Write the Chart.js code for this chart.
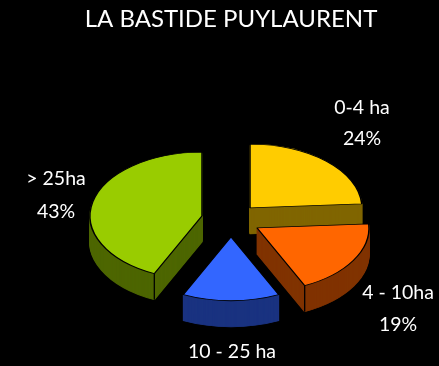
<!DOCTYPE html>
<html lang="fr">
<head>
    <meta charset="UTF-8">
    <title>LA BASTIDE PUYLAURENT</title>
    <script src="https://cdn.jsdelivr.net/npm/chart.js"></script>
    <style>
        html, body { margin: 0; background: #000; }
        canvas { display: block; }
    </style>
</head>
<body>
    <canvas id="myChart" width="439" height="366"></canvas>
    <script>
        const chartTitle = 'LA BASTIDE PUYLAURENT';
        const categories = ['0-4 ha', '4 - 10ha', '10 - 25 ha', '> 25ha'];
        const shares = [24, 19, 14, 43];

        const topColors = ['#FFCC00', '#FF6600', '#3366FF', '#99CC00'];
        const sideColors = ['#806600', '#803300', '#1A3380', '#4D6600'];

        // look of the fake 3D: squash, thickness, how far each slice is pulled out
        const squash = 0.57;
        const depth = 26;
        const pull = [[19, -12], [26, 8], [0, 17], [-29, -4]];
        const drawOrder = [0, 3, 1, 2];
        // which edge of a slice shows a vertical line on its side
        const cornerEdge = [null, 'endAngle', null, 'startAngle'];
        // label anchors: centre x, first baseline, gap to the percent (0 = cropped off)
        const labelSpots = [[362, 114, 31], [398, 299, 32], [232, 358, 0], [56, 185, 33]];

        function drawArc(ctx, arc, i, yShift, color) {
            const options = arc.options;
            const oldFill = options.backgroundColor;
            const oldBorder = options.borderColor;
            if (color) {
                options.backgroundColor = color;
                options.borderColor = color;
            }
            ctx.save();
            ctx.translate(arc.x + pull[i][0], arc.y + pull[i][1] + yShift);
            ctx.scale(1, squash);
            ctx.translate(-arc.x, -arc.y);
            arc.draw(ctx);
            ctx.restore();
            options.backgroundColor = oldFill;
            options.borderColor = oldBorder;
        }

        const fakePie3d = {
            id: 'fakePie3d',
            beforeDatasetDraw(chart, args) {
                const ctx = chart.ctx;
                const arcs = chart.getDatasetMeta(args.index).data;
                drawOrder.forEach(i => {
                    const arc = arcs[i];
                    for (let d = depth; d > 0; d--) {
                        drawArc(ctx, arc, i, d, sideColors[i]);
                    }
                    drawArc(ctx, arc, i, 0, null);
                    if (cornerEdge[i]) {
                        const angle = arc[cornerEdge[i]];
                        const x = arc.x + pull[i][0] + Math.cos(angle) * arc.outerRadius;
                        const y = arc.y + pull[i][1] + Math.sin(angle) * arc.outerRadius * squash;
                        ctx.save();
                        ctx.strokeStyle = '#000';
                        ctx.lineWidth = 1.3;
                        ctx.beginPath();
                        ctx.moveTo(x, y);
                        ctx.lineTo(x, y + depth);
                        ctx.stroke();
                        ctx.restore();
                    }
                });
                return false;
            },
            afterDraw(chart) {
                const ctx = chart.ctx;
                ctx.save();
                ctx.fillStyle = '#fff';
                ctx.font = '19.5px Lato';
                ctx.textAlign = 'center';
                categories.forEach((name, i) => {
                    const [x, y, gap] = labelSpots[i];
                    ctx.fillText(name, x, y);
                    if (gap) ctx.fillText(shares[i] + '%', x, y + gap);
                });
                ctx.restore();
            }
        };

        new Chart(document.getElementById('myChart'), {
            type: 'pie',
            data: {
                labels: categories,
                datasets: [{
                    data: shares,
                    backgroundColor: topColors,
                    borderColor: '#000',
                    borderWidth: 1.5,
                    radius: 112
                }]
            },
            options: {
                responsive: false,
                animation: false,
                layout: { padding: { left: 23 } },
                plugins: {
                    legend: { display: false },
                    tooltip: { enabled: false },
                    title: {
                        display: true,
                        text: chartTitle,
                        color: '#fff',
                        font: { family: 'Lato', size: 24, weight: 'normal' },
                        padding: { top: 5, bottom: 40 }
                    }
                }
            },
            plugins: [fakePie3d]
        });
    </script>
</body>
</html>
